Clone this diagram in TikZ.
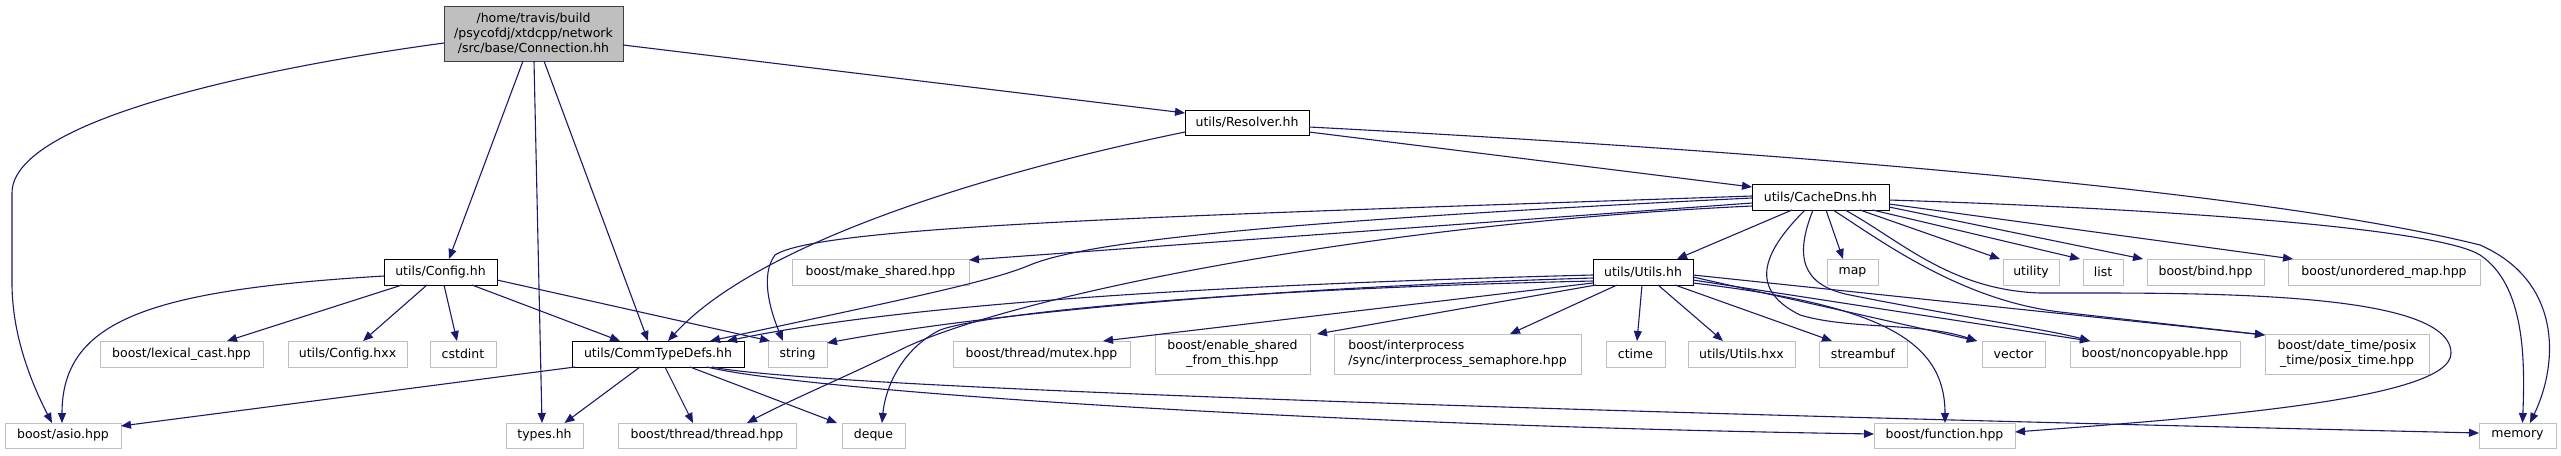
\documentclass[tikz,border=0pt]{standalone}
\usepackage{fontspec}
\setmainfont{DejaVu Sans}
\usetikzlibrary{arrows.meta}
\definecolor{edgeblue}{HTML}{191970}
\definecolor{extgray}{HTML}{BFBFBF}
\definecolor{rootfill}{HTML}{BFBFBF}
\definecolor{rootdraw}{HTML}{404040}
\begin{document}
\begin{tikzpicture}[x=1pt,y=-1pt,
  every node/.style={font=\fontsize{12.5}{15}\selectfont, inner sep=0pt, outer sep=0pt},
  docbox/.style={draw=black, fill=white, line width=1pt, minimum height=26pt, align=center},
  extbox/.style={draw=extgray, fill=white, line width=1pt, minimum height=26pt, align=center},
  rootbox/.style={draw=rootdraw, fill=rootfill, line width=1pt, align=center},
  e/.style={draw=edgeblue, line width=1.1pt, -{Triangle[length=10pt,width=8pt]}}]
\useasboundingbox (0,0) rectangle (2561,455);
\fill[white] (0,0) rectangle (2561,455);
% nodes
\node[rootbox, minimum width=179pt, minimum height=55pt] (conn) at (533.5,33.5) {/home/travis/build\\/psycofdj/xtdcpp/network\\/src/base/Connection.hh};
\node[docbox, minimum width=124pt, minimum height=25pt] (resolver) at (1247,122.5) {utils/Resolver.hh};
\node[docbox, minimum width=137pt] (cachedns) at (1820.5,197) {utils/CacheDns.hh};
\node[docbox, minimum width=113pt] (config) at (440.5,272) {utils/Config.hh};
\node[docbox, minimum width=100pt] (utils) at (1643,272) {utils/Utils.hh};
\node[extbox, minimum width=177pt] (makeshared) at (880.5,272) {boost/make\_shared.hpp};
\node[extbox, minimum width=51pt] (map) at (1852.5,272) {map};
\node[extbox, minimum width=56pt] (utility) at (2031,272) {utility};
\node[extbox, minimum width=40pt] (list) at (2103,272) {list};
\node[extbox, minimum width=117pt] (bind) at (2205.5,272) {boost/bind.hpp};
\node[extbox, minimum width=192pt] (umap) at (2384,272) {boost/unordered\_map.hpp};
\node[extbox, minimum width=163pt] (lexical) at (181.5,354) {boost/lexical\_cast.hpp};
\node[extbox, minimum width=119pt] (chxx) at (347.5,354) {utils/Config.hxx};
\node[extbox, minimum width=66pt] (cstdint) at (463,354) {cstdint};
\node[docbox, minimum width=172pt] (ctd) at (658,354) {utils/CommTypeDefs.hh};
\node[extbox, minimum width=59pt] (string) at (797.5,354) {string};
\node[extbox, minimum width=177pt] (mutex) at (1041.5,354) {boost/thread/mutex.hpp};
\node[extbox, minimum width=155pt, minimum height=40pt] (enable) at (1232.5,354) {boost/enable\_shared\\\_from\_this.hpp};
\node[extbox, minimum width=247pt, minimum height=40pt, align=left] (interp) at (1457.5,354) {boost/interprocess\\/sync/interprocess\_semaphore.hpp};
\node[extbox, minimum width=59pt] (ctime) at (1635.5,354) {ctime};
\node[extbox, minimum width=107pt] (uhxx) at (1741.5,354) {utils/Utils.hxx};
\node[extbox, minimum width=88pt] (streambuf) at (1863,354) {streambuf};
\node[extbox, minimum width=63pt] (vector) at (2013.5,354) {vector};
\node[extbox, minimum width=170pt] (noncopy) at (2155,354) {boost/noncopyable.hpp};
\node[extbox, minimum width=164pt, minimum height=40pt] (datetime) at (2347,354) {boost/date\_time/posix\\\_time/posix\_time.hpp};
\node[extbox, minimum width=116pt, minimum height=25pt] (asio) at (63,435.5) {boost/asio.hpp};
\node[extbox, minimum width=77pt, minimum height=25pt] (types) at (544.5,435.5) {types.hh};
\node[extbox, minimum width=178pt, minimum height=25pt] (thread) at (707,435.5) {boost/thread/thread.hpp};
\node[extbox, minimum width=63pt, minimum height=25pt] (deque) at (873.5,435.5) {deque};
\node[extbox, minimum width=141pt, minimum height=25pt] (function) at (1944.5,435.5) {boost/function.hpp};
\node[extbox, minimum width=77pt, minimum height=25pt] (memory) at (2517.5,435.5) {memory};
% Connection.hh
\draw[e] ([yshift=-9.5pt]conn.west) .. controls (260,68) and (12,120) .. (12,193) -- (12,283) .. controls (12,340) and (35,390) .. ([xshift=-11pt]asio.north);
\draw[e] ([xshift=-10.5pt]conn.south) -- ([xshift=8.5pt]config.north);
\draw[e] ([xshift=0.5pt]conn.south) -- ([xshift=-2.5pt]types.north);
\draw[e] ([xshift=10.5pt]conn.south) -- ([xshift=-10pt]ctd.north);
\draw[e] ([yshift=-11.5pt]conn.east) -- ([yshift=9.5pt]resolver.west);
% Config.hh
\draw[e] ([yshift=-4pt]config.west) .. controls (150,290) and (62,320) .. ([xshift=-1pt]asio.north);
\draw[e] ([xshift=-38.5pt]config.south) -- ([xshift=45.5pt]lexical.north);
\draw[e] ([xshift=-13.5pt]config.south) -- ([xshift=15.5pt]chxx.north);
\draw[e] ([xshift=3.5pt]config.south) -- ([xshift=-6pt]cstdint.north);
\draw[e] ([xshift=31.5pt]config.south) -- ([xshift=-38pt]ctd.north);
\draw[e] ([yshift=-8pt]config.east) -- ([xshift=-27.5pt]string.north);
% Resolver.hh
\draw[e] ([yshift=-9.5pt]resolver.west) .. controls (1000,170) and (760,240) .. ([xshift=10pt]ctd.north);
\draw[e] ([yshift=-9.5pt]resolver.east) -- ([yshift=10pt]cachedns.west);
\draw[e] ([yshift=-4.5pt]resolver.east) .. controls (1900,158) and (2300,200) .. (2480,245) .. controls (2560,280) and (2560,360) .. ([xshift=12.5pt]memory.north);
% CommTypeDefs.hh
\draw[e] ([xshift=3pt]ctd.south west) -- ([yshift=9.5pt]asio.east);
\draw[e] ([xshift=-18pt]ctd.south) -- ([xshift=20pt]types.north);
\draw[e] ([xshift=7pt]ctd.south) -- ([xshift=-14pt]thread.north);
\draw[e] ([xshift=32pt]ctd.south) -- ([xshift=-36.5pt]deque.north);
\draw[e] ([xshift=49pt]ctd.south) .. controls (800,390) and (1300,425) .. ([yshift=1.5pt]function.west);
\draw[e] ([xshift=54pt]ctd.south) .. controls (800,385) and (1400,408) .. ([yshift=2.5pt]memory.west);
% CacheDns.hh
\draw[e] ([yshift=-1pt]cachedns.west) .. controls (1300,220) and (1090,240) .. (1030,265) .. controls (990,282) and (900,300) .. ([xshift=52pt]ctd.north);
\draw[e] ([yshift=1pt]cachedns.west) .. controls (1200,215) and (820,225) .. (775,255) .. controls (760,275) and (770,310) .. ([xshift=-14.5pt]string.north);
\draw[e] ([yshift=-6pt]cachedns.west) -- ([yshift=12pt]makeshared.east);
\draw[e] ([yshift=-9pt]cachedns.west) .. controls (1350,225) and (1000,300) .. (900,350) .. controls (850,375) and (790,400) .. ([xshift=40pt]thread.north);
\draw[e] ([xshift=-28.5pt]cachedns.south) -- ([xshift=34pt]utils.north);
\draw[e] ([xshift=5.5pt]cachedns.south) -- ([xshift=-9.5pt]map.north);
\draw[e] ([xshift=39.5pt]cachedns.south) -- ([xshift=-3pt]utility.north west);
\draw[e] ([xshift=52pt]cachedns.south) -- ([xshift=-3pt]list.north west);
\draw[e] ([yshift=-10pt]cachedns.east) -- ([xshift=-4pt]bind.north west);
\draw[e] ([yshift=-7pt]cachedns.east) -- ([xshift=5pt]umap.north west);
\draw[e] ([yshift=-3pt]cachedns.east) .. controls (2200,210) and (2440,230) .. (2480,255) .. controls (2525,285) and (2525,360) .. ([xshift=5pt]memory.north);
\draw[e] ([xshift=24.5pt]cachedns.south) .. controls (1900,240) and (1950,290) .. (2040,293) .. controls (2200,293) and (2450,290) .. (2451,353) .. controls (2452,400) and (2200,418) .. ([yshift=3.5pt]function.east);
\draw[e] ([xshift=12.5pt]cachedns.south) .. controls (1880,240) and (1960,300) .. (2060,312) -- ([yshift=19pt]datetime.west);
\draw[e] ([xshift=-7.5pt]cachedns.south) .. controls (1795,255) and (1800,285) .. (1850,295) .. controls (1950,315) and (2050,330) .. ([xshift=20pt]noncopy.north west);
\draw[e] ([xshift=-15.5pt]cachedns.south) .. controls (1760,255) and (1750,290) .. (1800,315) .. controls (1850,330) and (1920,322) .. ([xshift=-5pt]vector.north west);
% Utils.hh
\draw[e] ([yshift=-3pt]utils.west) .. controls (1200,285) and (900,305) .. ([xshift=69pt]ctd.north);
\draw[e] ([yshift=-6pt]utils.west) .. controls (1200,290) and (950,320) .. ([yshift=11pt]string.east);
\draw[e] ([yshift=-9pt]utils.west) .. controls (1200,290) and (980,315) .. (940,330) .. controls (900,350) and (885,390) .. ([xshift=8.5pt]deque.north);
\draw[e] ([yshift=-11pt]utils.west) -- ([xshift=61.5pt]mutex.north);
\draw[e] ([xshift=3pt]utils.south west) -- ([xshift=84.5pt]enable.north);
\draw[e] ([xshift=24pt]utils.south west) -- ([xshift=52.5pt]interp.north);
\draw[e] ([xshift=-1pt]utils.south) -- ([xshift=1.5pt]ctime.north);
\draw[e] ([xshift=15pt]utils.south) -- ([xshift=-18.5pt]uhxx.north);
\draw[e] ([xshift=32pt]utils.south) -- ([xshift=-31pt]streambuf.north);
\draw[e] ([yshift=-5pt]utils.east) -- ([xshift=-5pt]vector.north west);
\draw[e] ([yshift=-8pt]utils.east) -- ([xshift=20pt]noncopy.north west);
\draw[e] ([yshift=-3pt]utils.east) -- ([yshift=19pt]datetime.west);
\draw[e] ([yshift=-11pt]utils.east) .. controls (1880,305) and (1945,340) .. ([xshift=0.5pt]function.north);
\end{tikzpicture}
\end{document}
